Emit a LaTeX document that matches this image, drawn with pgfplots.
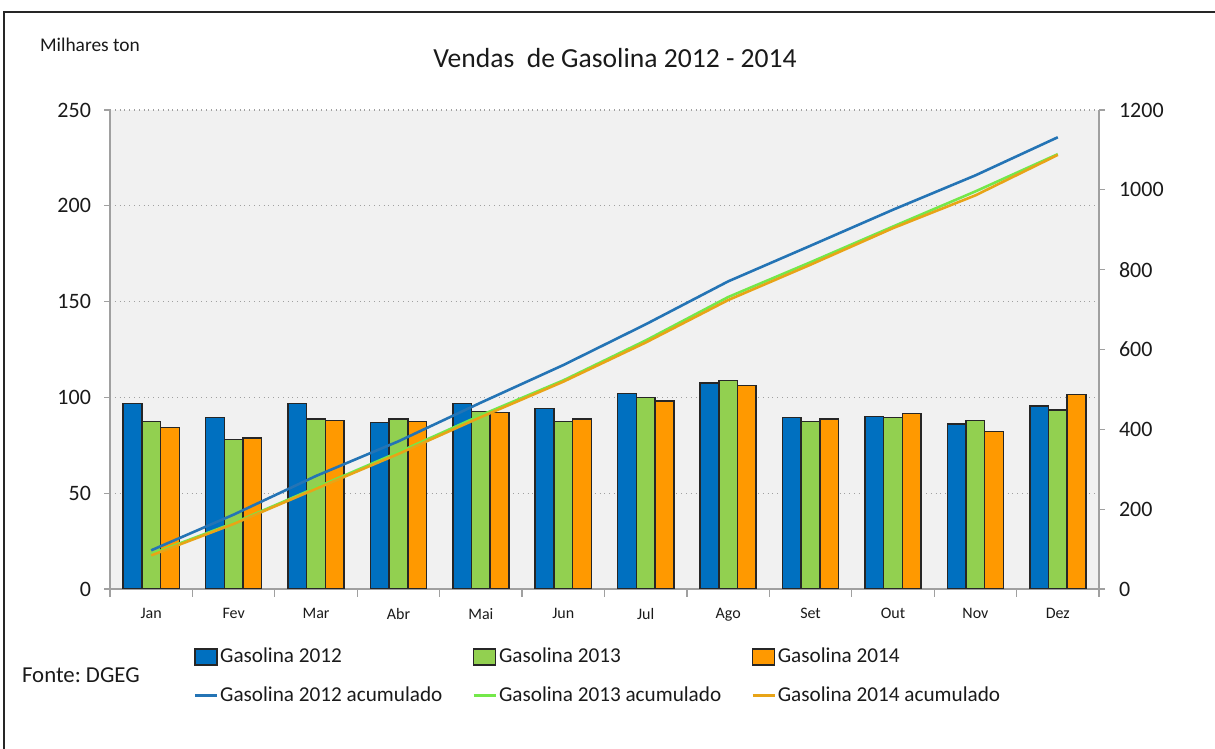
\documentclass[border=0pt]{standalone}
\usepackage{fontspec}
\setmainfont{Carlito}
\usepackage{pgfplots}
\pgfplotsset{compat=1.18}
\frenchspacing
\definecolor{barblue}{HTML}{0070C0}
\definecolor{bargreen}{HTML}{92D050}
\definecolor{barorange}{HTML}{FF9900}
\definecolor{lineblue}{HTML}{2474B5}
\definecolor{linegreen}{HTML}{74E84A}
\definecolor{lineorange}{HTML}{E8A417}
\definecolor{plotbg}{HTML}{F1F1F1}
\definecolor{axgray}{HTML}{A0A0A0}
\definecolor{txt}{HTML}{1A1A1A}
\begin{document}
\begin{tikzpicture}[x=0.5pt,y=0.5pt]
\path[use as bounding box] (0,0) rectangle (1215,749);
\draw[line width=1pt,black!85] (4,0) -- (4,737) -- (1215,737);
\node[anchor=west,text=txt,font=\fontsize{9.7}{11}\selectfont] at (33,704) {Milhares ton};
\node[text=txt,font=\fontsize{13.8}{16}\selectfont] at (615,691) {Vendas\ \ de Gasolina 2012 - 2014};
\node[anchor=west,text=txt,font=\fontsize{11.4}{13}\selectfont] at (15,74) {Fonte: DGEG};
\begin{axis}[
  at={(55pt,80pt)}, anchor=south west,
  width=494.5pt, height=239.5pt, scale only axis,
  xmin=-0.5, xmax=11.5, ymin=0, ymax=250,
  ytick={0,50,...,250},
  xtick={0,...,11},
  xticklabels={Jan,Fev,Mar,Abr,Mai,Jun,Jul,Ago,Set,Out,Nov,Dez},
  minor xtick={-0.5,0.5,...,11.5},
  major x tick style={draw=none},
  minor tick length=4pt,
  tick align=outside,
  axis x line*=bottom, axis y line*=left,
  axis line style={axgray, line width=0.8pt},
  every tick/.style={axgray, line width=0.6pt},
  major tick length=3pt,
  ymajorgrids, grid style={axgray, dotted, line width=0.6pt},
  axis background/.style={fill=plotbg},
  /pgf/number format/assume math mode=true,
  yticklabel style={font=\fontsize{11}{13}\selectfont, text=txt, xshift=-3pt},
  xticklabel style={font=\fontsize{8}{10}\selectfont, text=txt, yshift=-3pt},
  ybar=0pt, bar width=9.35pt,
  every axis plot/.append style={draw=black!85, line width=0.75pt},
]
\addplot[fill=barblue] coordinates {(0,96.9) (1,89.4) (2,96.9) (3,86.8) (4,96.9) (5,94.1) (6,102.1) (7,107.5) (8,89.4) (9,90.1) (10,86.1) (11,95.5)};
\addplot[fill=bargreen] coordinates {(0,87.3) (1,77.9) (2,88.7) (3,88.7) (4,92.7) (5,87.3) (6,100.0) (7,108.7) (8,87.3) (9,89.4) (10,88.0) (11,93.4)};
\addplot[fill=barorange] coordinates {(0,84.2) (1,78.8) (2,88.0) (3,87.5) (4,92.2) (5,88.7) (6,98.1) (7,106.3) (8,88.7) (9,91.5) (10,82.1) (11,101.4)};
\end{axis}
\begin{axis}[
  at={(55pt,80pt)}, anchor=south west,
  width=494.5pt, height=239.5pt, scale only axis,
  xmin=-0.5, xmax=11.5, ymin=0, ymax=1200,
  ytick={0,200,...,1200},
  axis x line=none, axis y line*=right,
  axis line style={axgray, line width=0.8pt},
  tick align=outside, major tick length=3pt,
  every tick/.style={axgray, line width=0.6pt},
  /pgf/number format/assume math mode=true,
  /pgf/number format/1000 sep={},
  yticklabel style={font=\fontsize{11}{13}\selectfont, text=txt, xshift=3.5pt},
  legend columns=3,
  legend cell align=left,
  legend style={at={(0.078,-0.106)}, anchor=north west, draw=none, fill=none,
    font=\fontsize{10.6}{12}\selectfont, text=txt, row sep=6.5pt,
    /tikz/every even column/.append style={column sep=14pt},
    /tikz/every odd column/.append style={column sep=0pt},
    nodes={inner xsep=1pt}},
]
\addlegendimage{legend image code/.code={\draw[fill=barblue,draw=black!85,line width=0.7pt] (0pt,-4pt) rectangle (11pt,4pt);}}
\addlegendentry{Gasolina 2012}
\addlegendimage{legend image code/.code={\draw[fill=bargreen,draw=black!85,line width=0.7pt] (0pt,-4pt) rectangle (11pt,4pt);}}
\addlegendentry{Gasolina 2013}
\addlegendimage{legend image code/.code={\draw[fill=barorange,draw=black!85,line width=0.7pt] (0pt,-4pt) rectangle (11pt,4pt);}}
\addlegendentry{Gasolina 2014}
\pgfplotsset{legend image code/.code={\draw[#1] (0pt,0pt) -- (11pt,0pt);}}
\addplot[lineblue, line width=1.3pt, mark=none] coordinates {(0,96.9) (1,186.3) (2,283.2) (3,370.0) (4,466.9) (5,561.0) (6,663.1) (7,770.6) (8,860.0) (9,950.1) (10,1036.2) (11,1131.7)};
\addlegendentry{Gasolina 2012 acumulado}
\addplot[linegreen, line width=1.3pt, mark=none] coordinates {(0,87.3) (1,165.2) (2,253.9) (3,342.6) (4,435.3) (5,522.6) (6,622.6) (7,731.3) (8,818.6) (9,908.0) (10,996.0) (11,1089.4)};
\addlegendentry{Gasolina 2013 acumulado}
\addplot[lineorange, line width=1.3pt, mark=none] coordinates {(0,84.2) (1,163.0) (2,251.0) (3,338.5) (4,430.7) (5,519.4) (6,617.5) (7,723.8) (8,812.5) (9,904.0) (10,986.1) (11,1087.5)};
\addlegendentry{Gasolina 2014 acumulado}
\end{axis}
\end{tikzpicture}
\end{document}
